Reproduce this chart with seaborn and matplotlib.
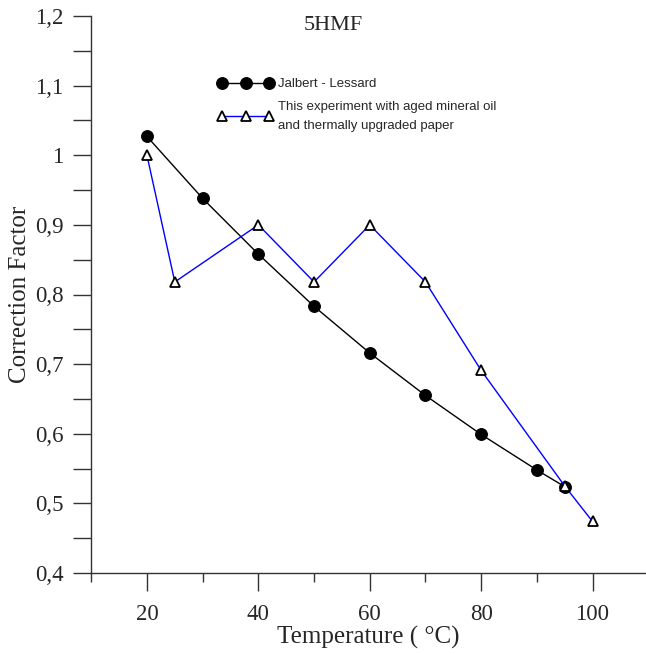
import matplotlib
matplotlib.use("Agg")
import matplotlib.pyplot as plt
import seaborn as sns
import pandas as pd
from matplotlib.ticker import MultipleLocator, FuncFormatter

jl_temp = [20, 30, 40, 50, 60, 70, 80, 90, 95]
jl_cf = [1.027, 0.938, 0.858, 0.783, 0.716, 0.655, 0.599, 0.548, 0.524]
ex_temp = [20, 25, 40, 50, 60, 70, 80, 95, 100]
ex_cf = [1.0, 0.818, 0.9, 0.818, 0.9, 0.818, 0.691, 0.525, 0.474]
jl_label = "Jalbert - Lessard"
ex_label = "This experiment with aged mineral oil\nand thermally upgraded paper"

sns.set_style("ticks")
plt.rcParams['font.family'] = ['Liberation Serif', 'DejaVu Serif']

fig = plt.figure(figsize=(6.46, 6.54), dpi=100)
ax = fig.add_axes([91.25/646, 81/654, (646-91.25)/646, 557/654])

df_jl = pd.DataFrame({"T": jl_temp, "CF": jl_cf})
df_ex = pd.DataFrame({"T": ex_temp, "CF": ex_cf})
sns.lineplot(data=df_jl, x="T", y="CF", ax=ax, color="black", lw=1.0,
             marker="o", markersize=8.5, markeredgecolor="black", markerfacecolor="black",
             label=jl_label)
sns.lineplot(data=df_ex, x="T", y="CF", ax=ax, color="blue", lw=1.0,
             marker="^", markersize=6.5, markeredgecolor="black", markerfacecolor="white",
             markeredgewidth=1.3, label=ex_label)

ax.set_xlim(10, 109.6)
ax.set_ylim(0.4, 1.2)
ax.xaxis.set_major_locator(MultipleLocator(20))
ax.xaxis.set_minor_locator(MultipleLocator(10))
ax.yaxis.set_major_locator(MultipleLocator(0.1))
ax.yaxis.set_minor_locator(MultipleLocator(0.05))
ax.yaxis.set_major_formatter(FuncFormatter(lambda v, p: ("%g" % round(v, 2)).replace(".", ",")))
ax.tick_params(which="both", width=1, color="#333333")
ax.tick_params(axis="x", which="major", length=13, labelsize=16.5, pad=9)
ax.tick_params(axis="x", which="minor", length=6.5)
ax.tick_params(axis="y", which="major", length=13, labelsize=16.5, pad=7)
ax.tick_params(axis="y", which="minor", length=13)
for s in ["top", "right"]:
    ax.spines[s].set_visible(False)
for s in ["left", "bottom"]:
    ax.spines[s].set_color("#333333")
    ax.spines[s].set_linewidth(1)

ax.set_xlabel("Temperature ( °C)", fontsize=18, labelpad=1)
ax.set_ylabel("Correction Factor", fontsize=18, labelpad=3)
ax.text(0.436, 1.0, "5HMF", transform=ax.transAxes, ha="center", va="top", fontsize=16)

leg = ax.legend(loc="upper left", bbox_to_anchor=(0.207, 0.91), frameon=False,
                numpoints=3, handlelength=4.2, handletextpad=0.35, labelspacing=0.8,
                prop={"family": "Liberation Sans", "size": 9.5})
for t in leg.get_texts():
    t.set_linespacing(1.75)

fig.savefig("out.png", dpi=100)
